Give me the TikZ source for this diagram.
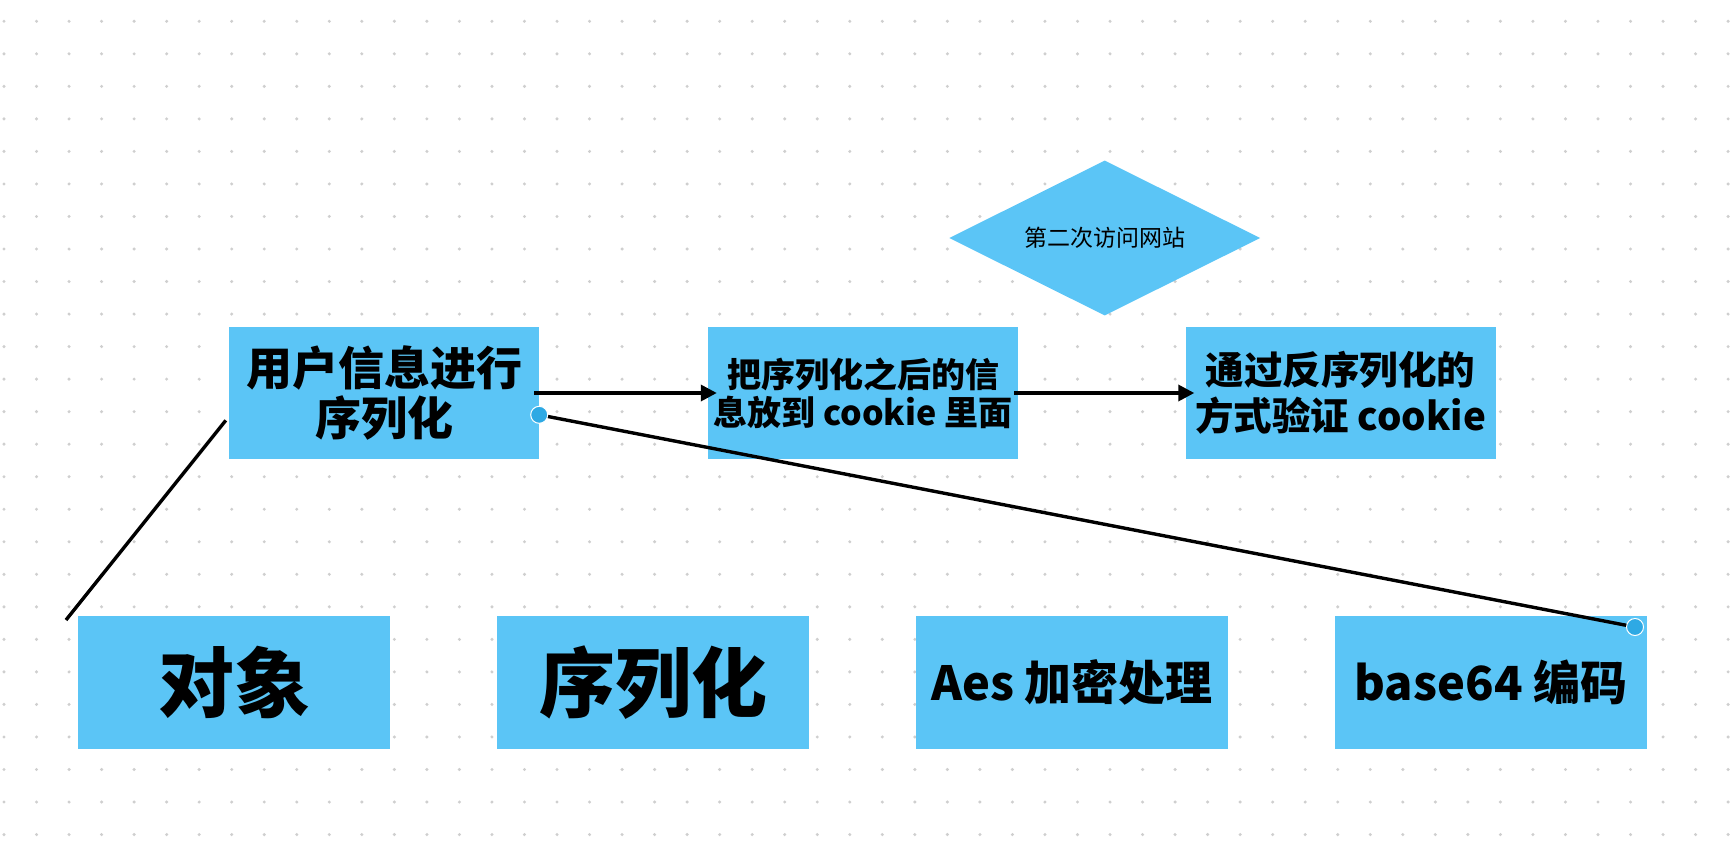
\documentclass[tikz,border=0pt]{standalone}
\usepackage{fontspec}
\setmainfont{Noto Sans CJK SC}
\usetikzlibrary{shapes.geometric,arrows.meta}
\definecolor{boxblue}{HTML}{5BC5F6}
\definecolor{pinblue}{HTML}{2EA9E4}
\definecolor{dotgray}{HTML}{CFCFCF}
\tikzset{
  box/.style={rectangle, fill=boxblue, minimum width=310pt, minimum height=132pt,
    inner sep=0pt, align=center},
  visit/.style={diamond, fill=boxblue, minimum width=311pt, minimum height=155pt,
    aspect=2, inner sep=0pt, font=\fontsize{23}{26}\selectfont},
  flow/.style={line width=3.4pt, -{Triangle[length=16pt,width=16pt]}},
  link/.style={line width=3.4pt},
  pin/.style={circle, fill=pinblue, draw=white, line width=1pt, minimum size=17pt, inner sep=0pt}
}
\begin{document}
\begin{tikzpicture}[x=1pt,y=-1pt]
    \useasboundingbox (0,0) rectangle (1734,856);
    \foreach \i in {0,...,53}
      \foreach \j in {0,...,25}
        \fill[dotgray] (4+32.53*\i, 21.3+32.53*\j) circle (1.7pt);

    \node[box, font=\fontsize{46}{50}\selectfont\bfseries] (tSer) at (384,393) {用户信息进行\\序列化};
    \node[box, font=\fontsize{34}{38}\selectfont\bfseries] (tCookie) at (863,393) {把序列化之后的信\\息放到 cookie 里面};
    \node[box, font=\fontsize{38.5}{46}\selectfont\bfseries] (tCheck) at (1340.5,393) {通过反序列化的\\方式验证 cookie};
    \node[visit] (dVisit) at (1104.7,238) {第二次访问网站};

    \node[box, minimum width=312pt, minimum height=133pt, font=\fontsize{76}{80}\selectfont\bfseries] (bObj) at (234,682.5) {对象};
    \node[box, minimum width=312pt, minimum height=133pt, font=\fontsize{76}{80}\selectfont\bfseries] (bSer) at (653,682.5) {序列化};
    \node[box, minimum width=312pt, minimum height=133pt, font=\fontsize{47}{50}\selectfont\bfseries] (bAes) at (1072,682.5) {Aes 加密处理};
    \node[box, minimum width=312pt, minimum height=133pt, font=\fontsize{47}{50}\selectfont\bfseries] (bB64) at (1491,682.5) {base64 编码};

    \coordinate (objEnd) at (66,620);
    \coordinate (b64Pin) at (1635,627);

    \draw[flow] ([xshift=-5pt]tSer.east) -- ([xshift=9pt]tCookie.west);
    \draw[flow] ([xshift=-4pt]tCookie.east) -- ([xshift=9pt]tCheck.west);
    \draw[link] ([xshift=-3pt]tSer.190) -- (objEnd);
    \draw[link] (tSer.352) -- (b64Pin);
    \node[pin] (pinA) at (tSer.352) {};
    \node[pin] (pinB) at (b64Pin) {};
\end{tikzpicture}
\end{document}
